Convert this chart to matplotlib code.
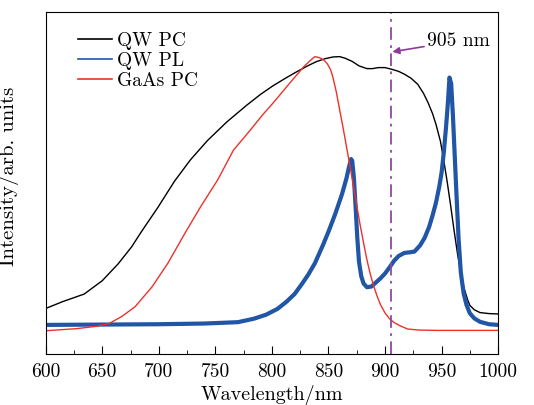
import numpy as np
from matplotlib import pyplot as plt
from matplotlib.ticker import MultipleLocator

# values (intensity in arbitrary units, 0..1 of axes height)
qw_pc_wl = [600, 615, 634, 650, 664, 676, 685, 699, 714, 728, 743, 760, 778,
            790, 801, 812, 822, 831, 839, 847, 854, 860, 865, 871, 877, 884,
            889, 894, 900, 906, 912, 917, 923, 929, 934, 938, 942, 945, 949,
            952, 955, 958, 961, 964, 967, 970, 973, 975, 979, 984, 992, 1000]
qw_pc = [0.134, 0.154, 0.176, 0.215, 0.264, 0.314, 0.360, 0.428, 0.506, 0.568,
         0.624, 0.678, 0.728, 0.759, 0.784, 0.806, 0.825, 0.841, 0.854, 0.863,
         0.868, 0.869, 0.864, 0.855, 0.842, 0.834, 0.834, 0.837, 0.837, 0.832,
         0.826, 0.818, 0.806, 0.788, 0.762, 0.735, 0.703, 0.672, 0.622, 0.565,
         0.503, 0.435, 0.363, 0.296, 0.236, 0.192, 0.160, 0.143, 0.130, 0.122,
         0.119, 0.118]

gaas_pc_wl = [600, 627, 645, 656, 667, 679, 694, 708, 723, 737, 752, 766, 781,
              792, 799, 806, 813, 820, 828, 834, 838, 842, 846, 849, 852, 854,
              857, 860, 863, 866, 869, 872, 875, 878, 881, 884, 887, 890, 893,
              896, 900, 904, 908, 913, 920, 930, 945, 970, 1000]
gaas_pc = [0.069, 0.075, 0.082, 0.090, 0.110, 0.139, 0.197, 0.266, 0.353,
           0.431, 0.509, 0.596, 0.655, 0.700, 0.726, 0.753, 0.781, 0.808,
           0.839, 0.858, 0.869, 0.866, 0.859, 0.848, 0.830, 0.808, 0.765,
           0.712, 0.660, 0.605, 0.550, 0.492, 0.435, 0.378, 0.326, 0.276,
           0.234, 0.199, 0.170, 0.145, 0.121, 0.104, 0.093, 0.084, 0.074,
           0.071, 0.070, 0.070, 0.070]

qw_pl_wl = [600, 650, 700, 740, 770, 784, 795, 805, 813, 820, 826, 832, 838,
            845, 850, 856, 862, 866, 868, 870, 871, 872.5, 874, 875.5, 877,
            879, 881, 884, 888, 892, 896, 900, 904, 908, 912, 917, 922, 926,
            931, 935, 939, 942, 945, 948, 950, 952, 954, 955.5, 957, 958.5,
            960, 961.5, 963, 965, 967, 969.5, 972, 975, 979, 984, 992, 1000]
qw_pl = [0.086, 0.087, 0.088, 0.090, 0.094, 0.104, 0.116, 0.133, 0.154,
         0.176, 0.203, 0.232, 0.266, 0.318, 0.358, 0.410, 0.468, 0.515, 0.545,
         0.570, 0.565, 0.515, 0.430, 0.340, 0.270, 0.228, 0.207, 0.196, 0.198,
         0.210, 0.222, 0.236, 0.254, 0.273, 0.287, 0.296, 0.298, 0.300, 0.318,
         0.340, 0.372, 0.405, 0.442, 0.490, 0.530, 0.590, 0.665, 0.730, 0.808,
         0.790, 0.700, 0.590, 0.480, 0.340, 0.240, 0.178, 0.145, 0.120, 0.105,
         0.095, 0.088, 0.086]

mark_wl = 905

plt.rcParams["font.family"] = ["cmr10", "DejaVu Serif"]
plt.rcParams["mathtext.fontset"] = "cm"
plt.rcParams["axes.unicode_minus"] = False

fig = plt.figure(figsize=(5.34, 4.05), dpi=100)
ax = fig.add_axes([0.0856, 0.125, 0.8472, 0.846])

ax.plot(qw_pc_wl, qw_pc, color="black", lw=1.0, label="QW PC")
ax.plot(qw_pl_wl, qw_pl, color="#2155a5", lw=3.0, label="QW PL")
ax.plot(gaas_pc_wl, gaas_pc, color="#f0302a", lw=1.0, label="GaAs PC")

ax.axvline(mark_wl, color="#8e4a9c", lw=1.3, ls=(0, (7, 3, 1.5, 3)))
ax.annotate("905 nm", xy=(906.5, 0.883), xytext=(937, 0.915),
            fontsize=14, va="center", ha="left",
            arrowprops=dict(arrowstyle="-|>", color="#8e3a96", lw=1.2,
                            mutation_scale=10, shrinkA=0, shrinkB=0))

ax.set_xlim(600, 1000)
ax.set_ylim(0, 1)
ax.xaxis.set_major_locator(MultipleLocator(50))
ax.xaxis.set_minor_locator(MultipleLocator(25))
ax.tick_params(axis="x", which="major", direction="in", length=6, labelsize=14, pad=6)
ax.tick_params(axis="x", which="minor", direction="in", length=3)
ax.set_yticks([])

ax.set_xlabel("Wavelength/nm", fontsize=14.5, labelpad=3)
ax.set_ylabel("Intensity/arb. units", fontsize=15)
ax.yaxis.set_label_coords(-0.058, 0.52)

handles, labels = ax.get_legend_handles_labels()
leg = ax.legend(handles, labels, loc="upper left", bbox_to_anchor=(0.071, 0.942),
                frameon=False, fontsize=14, handlelength=1.75, handletextpad=0.25,
                labelspacing=0.12, borderpad=0, borderaxespad=0)
for line in leg.get_lines():
    line.set_linewidth(1.2)

fig.savefig("out.png", dpi=100)
